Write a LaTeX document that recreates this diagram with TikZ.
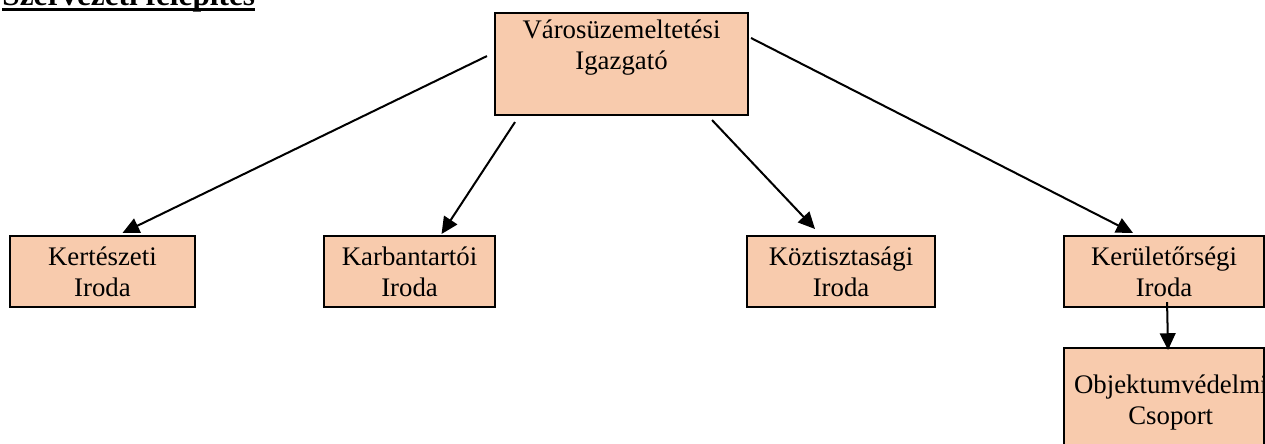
\documentclass[tikz,border=0pt]{standalone}
\usepackage{fontspec}
\setmainfont{Liberation Serif}
\usetikzlibrary{arrows.meta}
\definecolor{peach}{RGB}{248,203,173}

\begin{document}
\begin{tikzpicture}[x=0.4478pt, y=-0.4478pt,
  office/.style={draw, line width=0.9pt, fill=peach, rectangle, inner sep=0pt, align=center, anchor=north west, font=\fontsize{12}{13.9}\selectfont},
  unit/.style={office, minimum height=31.8pt},
  link/.style={line width=0.9pt, -{Triangle[length=7.5pt,width=7pt]}}]
\clip (0,0) rectangle (1265,444);
\node[anchor=base west, inner sep=0pt, font=\fontsize{14}{16}\selectfont\bfseries] (title) at (2,5) {Szervezeti felépítés};
\draw[line width=1.3pt] ([shift={(0,4.5)}]title.base west) -- ([shift={(0,4.5)}]title.base east);
% director
\node[office] (vig) at (494,12) {\parbox[t][45.7pt][t]{113.3pt}{\centering\rule{0pt}{11.2pt}Városüzemeltetési\\Igazgató}};
% offices
\node[unit, minimum width=82.8pt] (kert) at (9,235) {Kertészeti\\Iroda};
\node[unit, minimum width=76.6pt] (karb) at (323,235) {Karbantartói\\Iroda};
\node[unit, minimum width=84.2pt] (kozt) at (746,235) {Köztisztasági\\Iroda};
\node[unit, minimum width=89.6pt] (kerul) at (1063,235) {Kerületőrségi\\Iroda};
\node[office] (obj) at (1063,347) {\parbox[t][58pt][t]{89.6pt}{\centering\rule{0pt}{20.2pt}\hspace*{4.5pt}\mbox{Objektumvédelmi}\\\hspace*{6pt}Csoport}};
% arrows
\draw[link] ([shift={(-7,-8)}]vig.west) -- ([shift={(20,-2)}]kert.north);
\draw[link] ([shift={(21,6)}]vig.south west) -- ([shift={(32,-1)}]karb.north);
\draw[link] ([shift={(-37,4)}]vig.south east) -- ([shift={(-26,-6)}]kozt.north);
\draw[link] ([shift={(2,26)}]vig.north east) -- ([shift={(-31,-2)}]kerul.north);
\draw[link] ([shift={(3,-6)}]kerul.south) -- ([shift={(4,3)}]obj.north);
\end{tikzpicture}
\end{document}
